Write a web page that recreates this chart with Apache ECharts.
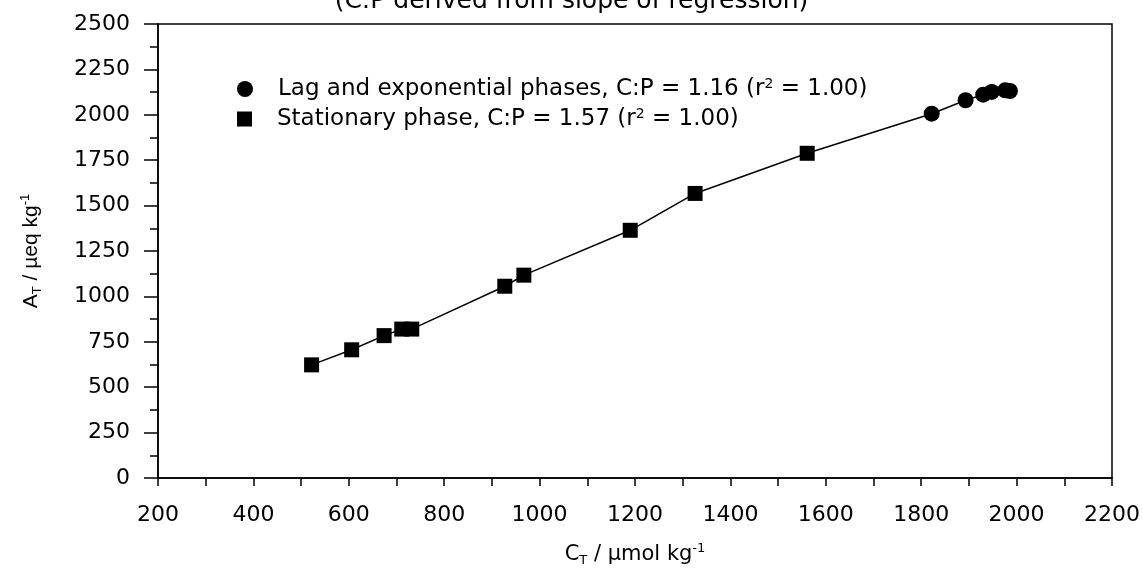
<!DOCTYPE html>
<html>
<head>
<meta charset="utf-8">
<script src="https://cdn.jsdelivr.net/npm/echarts@6/dist/echarts.min.js"></script>
<style>html,body{margin:0;padding:0;background:#fff}#c{width:1143px;height:568px}</style>
</head>
<body>
<div id="c"></div>
<script>
// Stationary phase (squares): C_T, A_T
const stationaryCT = [522, 606, 674, 711, 732, 927, 967, 1190, 1326, 1561];
const stationaryAT = [623, 706, 784, 820, 820, 1056, 1117, 1364, 1567, 1788];
// Lag and exponential phases (circles)
const lagCT = [1822, 1893, 1930, 1948, 1976, 1986];
const lagAT = [2006, 2080, 2111, 2126, 2135, 2131];
const legendLag = 'Lag and exponential phases, C:P = 1.16 (r';
const legendStat = 'Stationary phase, C:P = 1.57 (r';
const titleText = '(C:P derived from slope of regression)';

const F = '"DejaVu Sans", sans-serif';
const FL = '"Liberation Sans", Arial, sans-serif';
const sq = stationaryCT.map((x, i) => [x, stationaryAT[i]]);
const ci = lagCT.map((x, i) => [x, lagAT[i]]);
const all = sq.concat(ci);

const legRich = {
  t: {fontFamily: F, fontSize: 23, color: '#000'},
  s: {fontFamily: F, fontSize: 14, color: '#000', verticalAlign: 'top', padding: [0, 0, 10, 0]}
};
function legFmt(n) {
  return (n === 'lag' ? '{t|' + legendLag : '{t|' + legendStat) + '}{s|2}{t| = 1.00)}';
}

const chart = echarts.init(document.getElementById('c'));
chart.setOption({
  animation: false,
  backgroundColor: '#fff',
  title: {
    text: titleText, left: 'center', top: -16,
    textStyle: {fontFamily: F, fontSize: 25, fontWeight: 'normal', color: '#000'}
  },
  grid: {left: 158, right: 31, top: 24, bottom: 90, show: true, borderColor: '#000', borderWidth: 1.5,
         containLabel: false, outerBoundsMode: 'none'},
  legend: [
    {orient: 'vertical', left: 232, top: 72, itemWidth: 16, itemHeight: 16, selectedMode: false,
     data: [{name: 'lag', icon: 'circle'}], formatter: legFmt,
     textStyle: {fontFamily: F, fontSize: 23, color: '#000', padding: [0, 0, 0, 20], rich: legRich}},
    {orient: 'vertical', left: 232, top: 102, itemWidth: 15, itemHeight: 15, selectedMode: false,
     data: [{name: 'stat', icon: 'rect'}], formatter: legFmt,
     textStyle: {fontFamily: F, fontSize: 23, color: '#000', padding: [0, 0, 0, 20], rich: legRich}}
  ],
  xAxis: {
    type: 'value', min: 200, max: 2200, interval: 200,
    name: '{a|C}{b|T}{a| / µmol kg}{c|-1}', nameLocation: 'middle', nameGap: 64,
    nameTextStyle: {rich: {
      a: {fontFamily: F, fontSize: 21, color: '#000'},
      b: {fontFamily: F, fontSize: 13, color: '#000', verticalAlign: 'bottom', padding: [12, 0, 0, 0]},
      c: {fontFamily: F, fontSize: 13, color: '#000', verticalAlign: 'top', padding: [0, 0, 9, 0]}
    }},
    axisLine: {lineStyle: {color: '#000', width: 1.5}},
    axisTick: {show: true, inside: false, length: 8, lineStyle: {color: '#000', width: 1.5}},
    minorTick: {show: true, splitNumber: 2, length: 8, lineStyle: {color: '#000', width: 1.5}},
    axisLabel: {fontFamily: F, fontSize: 22, color: '#000', margin: 26, formatter: v => String(v)},
    splitLine: {show: false}
  },
  yAxis: {
    type: 'value', min: 0, max: 2500, interval: 250,
    name: '{a|A}{b|T}{a| / µeq kg}{c|-1}', nameLocation: 'middle', nameGap: 114, nameRotate: 90,
    nameTextStyle: {rich: {
      a: {fontFamily: FL, fontSize: 21, color: '#000'},
      b: {fontFamily: FL, fontSize: 13, color: '#000', verticalAlign: 'bottom', padding: [12, 0, 0, 0]},
      c: {fontFamily: FL, fontSize: 13, color: '#000', verticalAlign: 'top', padding: [0, 0, 9, 0]}
    }},
    axisLine: {lineStyle: {color: '#000', width: 1.5}},
    axisTick: {show: true, inside: false, length: 14, lineStyle: {color: '#000', width: 1.5}},
    minorTick: {show: true, splitNumber: 2, length: 8, lineStyle: {color: '#000', width: 1.5}},
    axisLabel: {fontFamily: F, fontSize: 22, color: '#000', margin: 28, formatter: v => String(v)},
    splitLine: {show: false}
  },
  series: [
    {name: 'fit', type: 'line', data: all, showSymbol: false, symbol: 'none',
     lineStyle: {color: '#000', width: 1.5}, z: 1, silent: true},
    {name: 'stat', type: 'scatter', data: sq, symbol: 'rect', symbolSize: 15,
     itemStyle: {color: '#000', opacity: 1}, z: 3},
    {name: 'lag', type: 'scatter', data: ci, symbol: 'circle', symbolSize: 16,
     itemStyle: {color: '#000', opacity: 1}, z: 3}
  ]
});
</script>
</body>
</html>
